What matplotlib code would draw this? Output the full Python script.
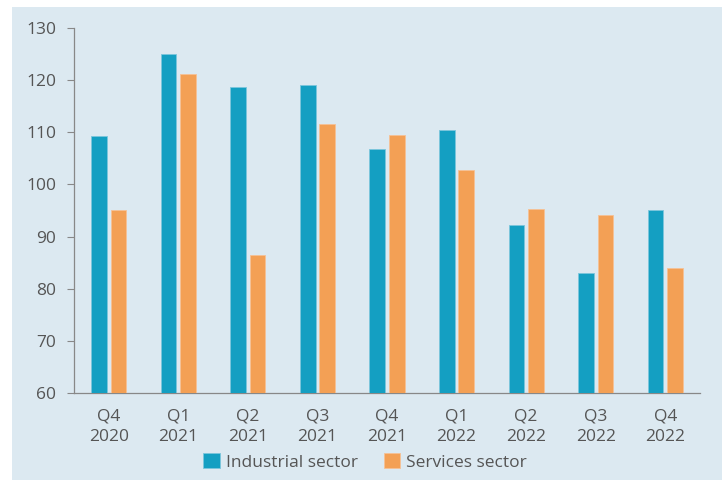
import matplotlib
matplotlib.use("Agg")
import matplotlib.pyplot as plt
import numpy as np
from matplotlib.patches import Rectangle

categories = ["Q4\n2020", "Q1\n2021", "Q2\n2021", "Q3\n2021", "Q4\n2021",
              "Q1\n2022", "Q2\n2022", "Q3\n2022", "Q4\n2022"]
industrial = [109.3, 125.0, 118.6, 119.0, 106.7, 110.5, 92.2, 83.0, 95.0]
services = [95.0, 121.1, 86.4, 111.6, 109.5, 102.8, 95.2, 94.1, 83.9]
yticks = [60, 70, 80, 90, 100, 110, 120, 130]

plt.rcParams['font.family'] = ['Open Sans', 'DejaVu Sans']

fig = plt.figure(figsize=(7.22, 4.80), dpi=100)
fig.patch.set_facecolor("white")
bg = Rectangle((12/722, 0), 1 - 12/722, 1 - 7/480,
               transform=fig.transFigure, facecolor="#dce9f1",
               edgecolor="none", zorder=-10)
fig.add_artist(bg)

ax = fig.add_axes([74/722, 1 - 393.3/480, (700-74)/722, (393.3-27.7)/480])
ax.set_facecolor("none")
ax.set_zorder(1)

x = np.arange(len(categories))
w = 0.225
teal = "#149fc2"
orange = "#f3a055"
ax.bar(x - 0.14, industrial, w, color=teal, edgecolor="#7cc6dc", linewidth=0.6,
       label="Industrial sector", zorder=3)
ax.bar(x + 0.14, services, w, color=orange, edgecolor="#f6c196", linewidth=0.6,
       label="Services sector", zorder=3)

ax.set_xlim(-0.5, len(categories) - 0.5)
ax.set_ylim(60, 130)
ax.set_yticks(yticks)
ax.set_xticks(x)
ax.set_xticklabels(categories, fontsize=12.5, color="#555555", linespacing=1.35)
ax.tick_params(axis='y', labelsize=12.5, labelcolor="#555555", color="#888888",
               length=5, width=0.8, pad=8)
ax.tick_params(axis='x', length=0, pad=11)
for s in ["top", "right"]:
    ax.spines[s].set_visible(False)
for s in ["left", "bottom"]:
    ax.spines[s].set_color("#888888")
    ax.spines[s].set_linewidth(0.9)

leg = fig.legend(loc="center", bbox_to_anchor=(365/722, 1 - 462/480), ncol=2,
                 frameon=False, fontsize=12.5, handlelength=0.95, handleheight=0.95,
                 handletextpad=0.35, columnspacing=1.5)
leg.set_zorder(2)
for t in leg.get_texts():
    t.set_color("#555555")

fig.savefig("out.png", dpi=100)
